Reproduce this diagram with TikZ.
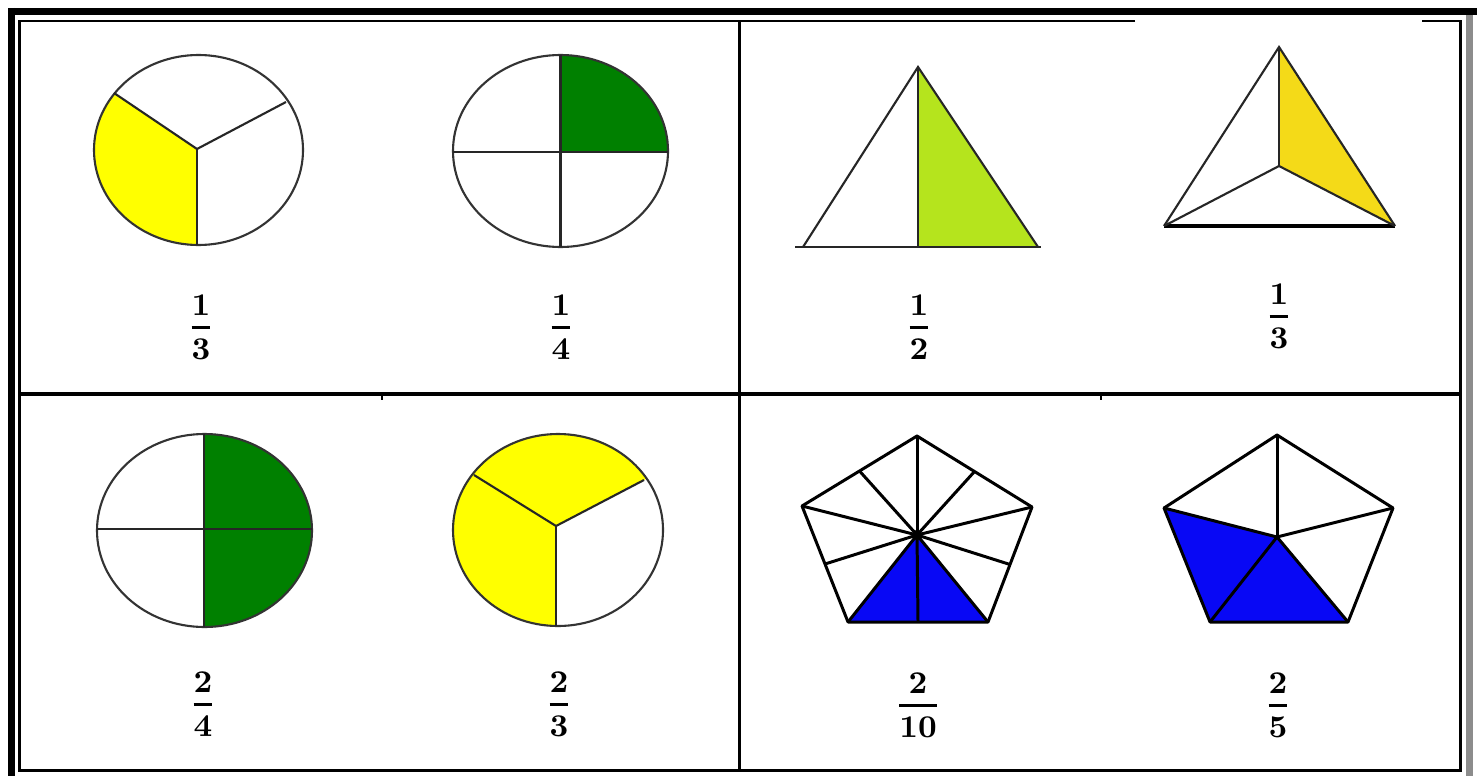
\documentclass[tikz,border=0pt]{standalone}
\usepackage{amsmath}
\usetikzlibrary{calc}
\definecolor{piegreen}{RGB}{0,128,0}
\definecolor{pieyellow}{RGB}{255,255,0}
\definecolor{limegreen}{RGB}{181,228,29}
\definecolor{goldyellow}{RGB}{244,218,24}
\definecolor{pentblue}{RGB}{8,8,245}
\newcommand{\fr}[2]{$\genfrac{}{}{0.9pt}{0}{\mathbf{#1}}{\mathbf{#2}}$}
\begin{document}
\begin{tikzpicture}[x=0.01cm,y=-0.01cm,
  pie/.style={draw=black!80,line width=0.6pt},
  cut/.style={draw=black!85,line width=0.6pt},
  pent/.style={draw=black,line width=0.85pt,line join=round},
  frac/.style={font=\fontsize{9.5}{11}\selectfont,inner sep=0pt}]
 \useasboundingbox (0,0) rectangle (1477,776);
 \fill[white] (0,0) rectangle (1477,776);
 % frame and dividers
 \draw[line width=2pt] (8,11.5) -- (1477,11.5);
 \draw[line width=2pt] (11.5,8) -- (11.5,776);
 \draw[line width=2pt,black!45] (1469,15) -- (1469,776);
 \draw[line width=0.85pt] (1135,21) -- (19.5,21) -- (19.5,770.5) -- (1460.5,770.5) -- (1460.5,21) -- (1422,21);
 \draw[line width=1.1pt] (739.5,21) -- (739.5,770.5);
 \draw[line width=0.9pt] (19.5,394) -- (1460.5,394);
 \draw[line width=0.6pt] (382,394) -- (382,400);
 \draw[line width=0.6pt] (1101,394) -- (1101,400);
 % top left: 1/3
 \begin{scope}
  \coordinate (O) at (197,149);
  \coordinate (B) at (197,245);
  \coordinate (L) at (114,93);
  \coordinate (R) at (286,102);
  \begin{scope}
   \clip (198.5,150) ellipse [x radius=104.5,y radius=95];
   \fill[pieyellow] (O) -- (197,260) -- (70,260) -- ($(O)!1.4!(L)$) -- cycle;
  \end{scope}
  \draw[pie] (198.5,150) ellipse [x radius=104.5,y radius=95];
  \draw[cut] (O) -- (B);
  \draw[cut] (O) -- (L);
  \draw[cut] (O) -- (R);
  \node[frac] (f1) at (201,327) {\fr{1}{3}};
 \end{scope}
 % top left: 1/4
 \begin{scope}
  \begin{scope}
   \clip (560.5,151) ellipse [x radius=107.5,y radius=96];
   \fill[piegreen] (560.5,152) rectangle (680,40);
  \end{scope}
  \draw[pie] (560.5,151) ellipse [x radius=107.5,y radius=96];
  \draw[cut] (560.5,55) -- (560.5,247);
  \draw[cut] (453,152) -- (668,152);
  \node[frac] (f2) at (561,327) {\fr{1}{4}};
 \end{scope}
 % top right: 1/2
 \begin{scope}
  \coordinate (A) at (918,67);
  \coordinate (BL) at (803,247);
  \coordinate (BR) at (1038,247);
  \coordinate (M) at (918,247);
  \fill[limegreen] (A) -- (M) -- (BR) -- cycle;
  \draw[cut] (BL) -- (A) -- (BR);
  \draw[cut] (A) -- (M);
  \draw[cut] (795,247) -- (1041,247);
  \node[frac] (f3) at (919,327) {\fr{1}{2}};
 \end{scope}
 % top right: 1/3
 \begin{scope}
  \coordinate (A) at (1279,47);
  \coordinate (BL) at (1164,226);
  \coordinate (BR) at (1395,226);
  \coordinate (O) at (1279,166);
  \fill[goldyellow] (A) -- (O) -- (BR) -- cycle;
  \draw[cut] (BL) -- (A) -- (BR);
  \draw[line width=0.9pt] (BL) -- (BR);
  \draw[cut] (O) -- (A);
  \draw[cut] (O) -- (BL);
  \draw[cut] (O) -- (BR);
  \node[frac] (f4) at (1279,316) {\fr{1}{3}};
 \end{scope}
 % bottom left: 2/4
 \begin{scope}
  \begin{scope}
   \clip (204.5,530.5) ellipse [x radius=107.5,y radius=96.5];
   \fill[piegreen] (204,420) rectangle (320,640);
  \end{scope}
  \draw[pie] (204.5,530.5) ellipse [x radius=107.5,y radius=96.5];
  \draw[cut] (204,434) -- (204,627);
  \draw[cut] (97,529) -- (312,529);
  \node[frac] (f5) at (203,704) {\fr{2}{4}};
 \end{scope}
 % bottom left: 2/3
 \begin{scope}
  \coordinate (O) at (556,526);
  \coordinate (B) at (556,626);
  \coordinate (L) at (474,475);
  \coordinate (R) at (644,480);
  \begin{scope}
   \clip (558,530) ellipse [x radius=105,y radius=96];
   \fill[pieyellow] (O) -- (556,640) -- (440,640) -- (440,420) -- (690,420) -- ($(O)!1.5!(R)$) -- cycle;
  \end{scope}
  \draw[pie] (558,530) ellipse [x radius=105,y radius=96];
  \draw[cut] (O) -- (B);
  \draw[cut] (O) -- (L);
  \draw[cut] (O) -- (R);
  \node[frac] (f6) at (559,704) {\fr{2}{3}};
 \end{scope}
 % bottom right: 2/10
 \begin{scope}
  \coordinate (a1) at (917,436);
  \coordinate (a2) at (1032,507);
  \coordinate (a3) at (988,622);
  \coordinate (a4) at (848,622);
  \coordinate (a5) at (802,506);
  \coordinate (ca) at (917,535);
  \fill[pentblue] (ca) -- (a3) -- (a4) -- cycle;
  \foreach \v in {a1,a2,a3,a4,a5}
   \draw[pent] (ca) -- (\v);
  \foreach \p/\q in {a1/a2,a2/a3,a3/a4,a4/a5,a5/a1}
   \draw[pent] (ca) -- ($(\p)!0.5!(\q)$);
  \draw[pent] (a1) -- (a2) -- (a3) -- (a4) -- (a5) -- cycle;
  \fill (ca) circle (1.5pt);
  \node[frac] (f7) at (918,705) {\fr{2}{10}};
 \end{scope}
 % bottom right: 2/5
 \begin{scope}
  \coordinate (b1) at (1277,435);
  \coordinate (b2) at (1393,508);
  \coordinate (b3) at (1348,622);
  \coordinate (b4) at (1210,622);
  \coordinate (b5) at (1164,508);
  \coordinate (cb) at (1277,537);
  \fill[pentblue] (cb) -- (b3) -- (b4) -- (b5) -- cycle;
  \foreach \v in {b1,b2,b3,b4,b5}
   \draw[pent] (cb) -- (\v);
  \draw[pent] (b1) -- (b2) -- (b3) -- (b4) -- (b5) -- cycle;
  \node[frac] (f8) at (1278,705) {\fr{2}{5}};
 \end{scope}
\end{tikzpicture}
\end{document}
